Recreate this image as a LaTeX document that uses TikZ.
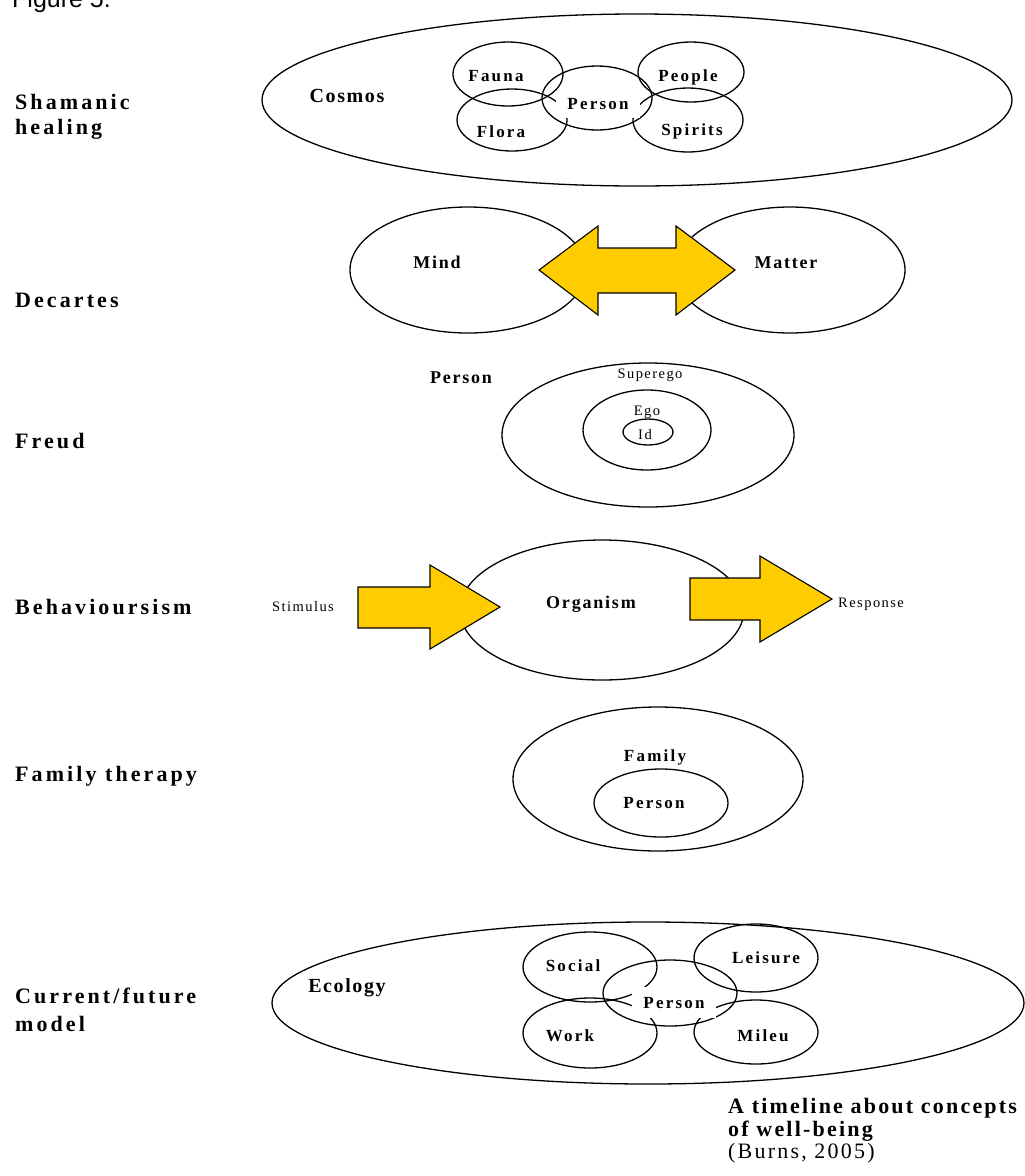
\documentclass[tikz,border=0pt]{standalone}
\usepackage{fontspec}
\setmainfont{Liberation Serif}
\newfontfamily\sansfig{Liberation Sans}
\newfontfamily\lsA[LetterSpace=14]{Liberation Serif}
\newfontfamily\lsB[LetterSpace=10]{Liberation Serif}
\newfontfamily\lsD[LetterSpace=8]{Liberation Serif}
\newfontfamily\lsC[LetterSpace=13]{Liberation Serif}
\newfontfamily\lsE[LetterSpace=10]{Liberation Serif}
\newfontfamily\lsF[LetterSpace=10]{Liberation Serif}
\usetikzlibrary{shapes.geometric}
\definecolor{arrowgold}{HTML}{FFCC00}
\begin{document}
\begin{tikzpicture}[x=1pt,y=-1pt,
  ell/.style={draw, ellipse, line width=1.3pt, inner sep=0pt},
  side/.style={anchor=base west, inner sep=0pt, font=\lsA\bfseries\fontsize{22}{26}\selectfont},
  big/.style={anchor=base, inner sep=0pt, font=\lsD\bfseries\fontsize{20}{24}\selectfont},
  mid/.style={anchor=base, inner sep=0pt, font=\lsB\bfseries\fontsize{18}{22}\selectfont},
  small/.style={anchor=base, inner sep=0pt, font=\lsC\bfseries\fontsize{17}{20}\selectfont},
  plain/.style={anchor=base, inner sep=0pt, font=\lsE\fontsize{14.5}{17}\selectfont},
  caption/.style={anchor=base west, inner sep=0pt, font=\lsF\bfseries\fontsize{22}{26}\selectfont},
  block/.style={draw, line width=1.1pt, fill=arrowgold, line join=miter},
  mask/.style={fill=white, inner xsep=11pt, inner ysep=6pt, text height=12pt, text depth=3pt}
]
\useasboundingbox (0,0) rectangle (1025,1176);

% title
\node[anchor=base west, inner sep=0pt, font=\sansfig\fontsize{25}{30}\selectfont] (fig) at (12,7.5) {Figure 5.};

% left labels
\node[side] (shaman) at (15,109) {Shamanic};
\node[side] (healing) at (15,134) {healing};
\node[side] (decartes) at (15,307) {Decartes};
\node[side] (freud) at (15,448) {Freud};
\node[side] (behav) at (15,614) {Behavioursism};
\node[side] (famth) at (15,781) {Family therapy};
\node[side] (current) at (15,1003) {Current/future};
\node[side] (model) at (15,1031) {model};

% ---- Shamanic healing
\node[ell, minimum width=750, minimum height=172] (cosmos) at (637,100) {};
\node[ell, minimum width=110, minimum height=64] (fauna) at (508,74) {};
\node[ell, minimum width=110, minimum height=62] (flora) at (512,120) {};
\node[ell, minimum width=110, minimum height=64] (personS) at (597,98) {};
\node[ell, minimum width=106, minimum height=60] (people) at (691,72) {};
\node[ell, minimum width=110, minimum height=64] (spirits) at (688,120) {};
\node[big] (cosmosL) at (347,102) {Cosmos};
\node[small] (faunaL) at (496,81) {Fauna};
\node[small] (floraL) at (501,137) {Flora};
\node[small] (peopleL) at (688,81) {People};
\node[small] (spiritsL) at (692,135) {Spirits};
\node[small, mask] (personSL) at (598,109) {Person};

% ---- Decartes
\node[ell, minimum width=236, minimum height=126] (mind) at (468,270) {};
\node[ell, minimum width=230, minimum height=126] (matter) at (790,270) {};
\draw[block] (539,270) -- (598,226) -- (598,248) -- (676,248) -- (676,226) -- (735,270)
  -- (676,315) -- (676,293) -- (598,293) -- (598,315) -- cycle;
\node[mid] (mindL) at (437,268) {Mind};
\node[mid] (matterL) at (786,268) {Matter};

% ---- Freud
\node[mid] (personF) at (461,383) {Person};
\node[ell, minimum width=292, minimum height=144] (superego) at (648,435) {};
\node[ell, minimum width=128, minimum height=80] (ego) at (647,430) {};
\node[ell, minimum width=50, minimum height=26] (id) at (648,432) {};
\node[plain] (superegoL) at (650,378) {Superego};
\node[plain] (egoL) at (647,415) {Ego};
\node[plain] (idL) at (645,439) {Id};

% ---- Behaviourism
\node[ell, minimum width=284, minimum height=140] (organism) at (602,610) {};
\draw[block] (358,587) -- (430,587) -- (430,565) -- (500,607) -- (430,649) -- (430,628) -- (358,628) -- cycle;
\draw[block] (690,578) -- (760,578) -- (760,556) -- (832,599) -- (760,642) -- (760,620) -- (690,620) -- cycle;
\node[mid] (organismL) at (591,608) {Organism};
\node[plain] (stimulus) at (303,611) {Stimulus};
\node[plain, anchor=base west] (response) at (838,607) {Response};

% ---- Family therapy
\node[ell, minimum width=290, minimum height=144] (family) at (658,779) {};
\node[ell, minimum width=134, minimum height=68] (personFam) at (661,803) {};
\node[small] (familyL) at (655,761) {Family};
\node[small] (personFamL) at (654,808) {Person};

% ---- Current/future model
\node[ell, minimum width=752, minimum height=162] (ecology) at (648,1003) {};
\node[ell, minimum width=134, minimum height=70] (social) at (590,967) {};
\node[ell, minimum width=124, minimum height=68] (leisure) at (756,958) {};
\node[ell, minimum width=134, minimum height=66] (personE) at (670,993) {};
\node[ell, minimum width=134, minimum height=70] (work) at (590,1033) {};
\node[ell, minimum width=124, minimum height=64] (mileu) at (756,1032) {};
\node[big] (ecologyL) at (347,992) {Ecology};
\node[small] (socialL) at (573,971) {Social};
\node[small] (leisureL) at (766,963) {Leisure};
\node[small] (workL) at (570,1041) {Work};
\node[small] (mileuL) at (763,1041) {Mileu};
\node[small, mask, text height=14pt, inner ysep=7pt] (personEL) at (674,1008) {Person};

% ---- caption
\node[caption] (cap1) at (728,1113) {A timeline about concepts};
\node[caption] (cap2) at (728,1136) {of well-being};
\node[caption, font=\lsF\fontsize{22}{26}\selectfont] (cap3) at (728,1158) {(Burns, 2005)};
\end{tikzpicture}
\end{document}
